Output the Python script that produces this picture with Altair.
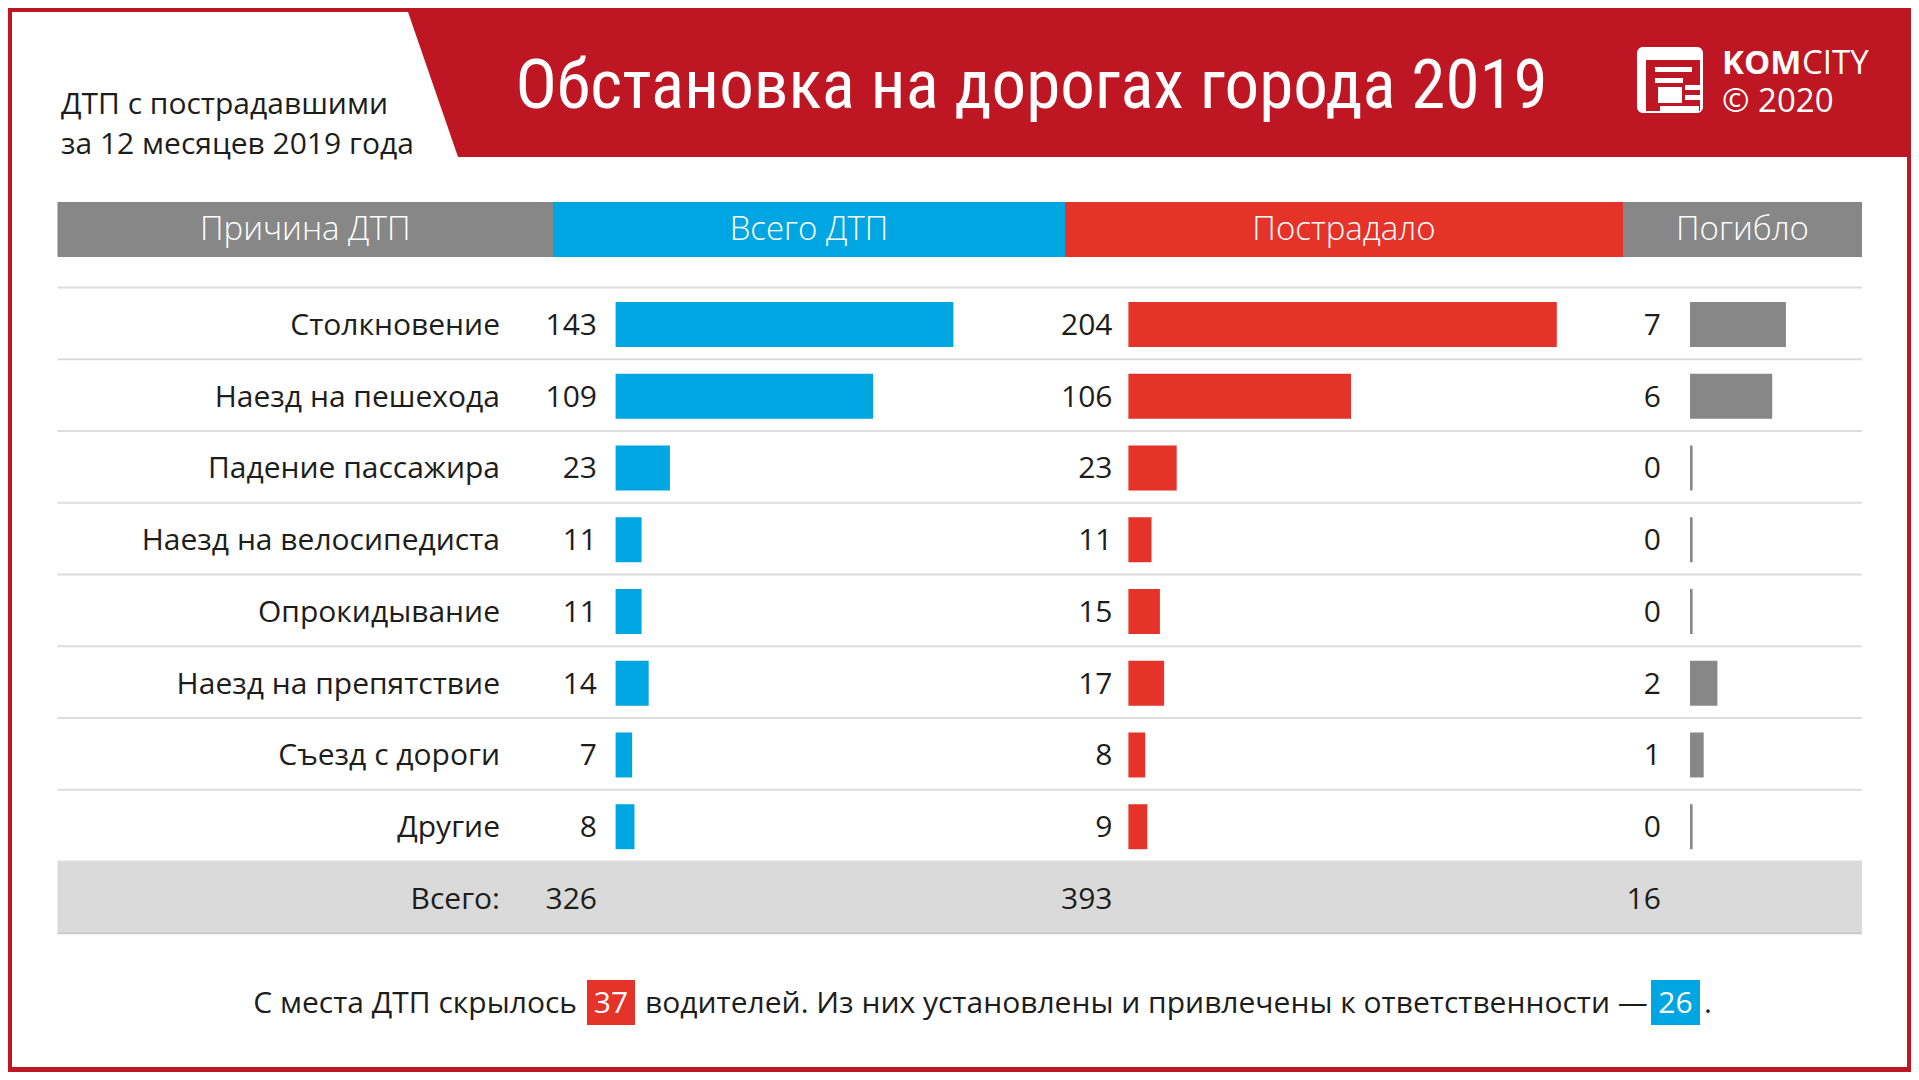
import altair as alt
import pandas as pd

# ---------------- data ----------------
causes = ["Столкновение", "Наезд на пешехода", "Падение пассажира",
          "Наезд на велосипедиста", "Опрокидывание", "Наезд на препятствие",
          "Съезд с дороги", "Другие"]
total_dtp = [143, 109, 23, 11, 11, 14, 7, 8]
injured = [204, 106, 23, 11, 15, 17, 8, 9]
killed = [7, 6, 0, 0, 0, 2, 1, 0]
total_label = "Всего:"
totals = [326, 393, 16]
headers = ["Причина ДТП", "Всего ДТП", "Пострадало", "Погибло"]
title_text = "Обстановка на дорогах города 2019"
subtitle_lines = ["ДТП с пострадавшими", "за 12 месяцев 2019 года"]
hidden_drivers = 37
punished_drivers = 26
footer_parts = ["С места ДТП скрылось",
                "водителей. Из них установлены и привлечены к ответственности —",
                "."]
logo_parts = ["KOM", "CITY", "© 2020"]

# ---------------- styles ----------------
FRAME = "#be1622"
BLUE = "#00a6e2"
RED = "#e5332a"
GRAY = "#878787"
INK = "#1d1d1b"
LINE = "#dcdcdc"
TOTAL_BG = "#dadada"
BODY = "Open Sans, Noto Sans, DejaVu Sans, sans-serif"
COND = "Roboto Condensed, Noto Sans Condensed, Liberation Sans Narrow, Roboto, sans-serif"

df = pd.DataFrame({"cause": causes, "dtp": total_dtp, "inj": injured, "kil": killed})
tot = pd.DataFrame({"cause": [total_label], "dtp": [totals[0]],
                    "inj": [totals[1]], "kil": [totals[2]]})
both = pd.concat([df, tot], ignore_index=True)
ydom = causes + [total_label]
dummy = pd.DataFrame({"k": [0]})

yscale = alt.Scale(type="band", domain=ydom, range=[279.6, 925.35],
                   paddingInner=0, paddingOuter=0)
Y = alt.Y("cause:N", scale=yscale, axis=None, sort=None)


def box(x, x2, y, y2, color, **kw):
    return alt.Chart(dummy).mark_rect(color=color, **kw).encode(
        x=alt.value(x), x2=alt.value(x2), y=alt.value(y), y2=alt.value(y2))


def label(text, x, y, size, color=INK, align="left", baseline="alphabetic",
          font=BODY, weight="normal"):
    return alt.Chart(dummy).mark_text(
        text=text, align=align, baseline=baseline, fontSize=size, font=font,
        fontWeight=weight, color=color).encode(x=alt.value(x), y=alt.value(y))


layers = []
# frame / white areas
layers.append(box(4, 1899, 149, 1059, "white"))
layers.append(box(4, 400, 4, 149, "white"))
layers.append(alt.Chart(dummy).mark_point(
    shape="M0,-1L0.69,1L0,1Z", size=145 ** 2, filled=True, opacity=1,
    color="white", strokeWidth=0).encode(x=alt.value(400), y=alt.value(76.5)))

# title / subtitle
layers.append(label(title_text, 1023.5, 100, 69, color="white", align="center", font=COND))
layers.append(label(subtitle_lines[0], 53, 106, 30))
layers.append(label(subtitle_lines[1], 53, 146, 30))

# logo
layers.append(box(1629, 1695, 39, 105, "white", cornerRadius=6))
layers.append(box(1638, 1692, 52, 103, FRAME))
for (a, b, c, d) in [(1647, 1684, 59, 64), (1647, 1675, 70, 75), (1650, 1674, 79, 95),
                     (1677, 1694, 77, 82), (1677, 1692, 87, 92), (1652, 1691, 98, 103)]:
    layers.append(box(a, b, c, d, "white"))
layers.append(label(logo_parts[0], 1714, 66, 33, color="white", weight="bold"))
layers.append(label(logo_parts[1], 1794, 66, 33, color="white"))
layers.append(label(logo_parts[2], 1714, 104, 33, color="white"))

# header
hx = [49.5, 545, 1057, 1615, 1854]
hcol = [GRAY, BLUE, RED, GRAY]
for i, h in enumerate(headers):
    layers.append(box(hx[i], hx[i + 1], 194, 249, hcol[i]))
    layers.append(label(h, (hx[i] + hx[i + 1]) / 2, 222, 33, color="white",
                        align="center", baseline="middle", weight=300))

# total row background
layers.append(alt.Chart(tot).mark_rect(color=TOTAL_BG).encode(
    y=Y, x=alt.value(49.5), x2=alt.value(1854)))

# row lines
layers.append(alt.Chart(pd.DataFrame({"cause": ydom})).mark_rule(
    color=LINE, strokeWidth=2).encode(
    y=alt.Y("cause:N", scale=yscale, axis=None, sort=None, bandPosition=0),
    x=alt.value(49.5), x2=alt.value(1854)))
layers.append(alt.Chart(tot).mark_rule(color="#cacaca", strokeWidth=2).encode(
    y=alt.Y("cause:N", scale=yscale, axis=None, sort=None, bandPosition=1),
    x=alt.value(49.5), x2=alt.value(1854)))

# bars
blue_scale = alt.Scale(domain=[0, 100], range=[607.6, 843.8], nice=False, zero=True)
red_scale = alt.Scale(domain=[0, 100], range=[1120.4, 1330.4], nice=False, zero=True)
gray_scale = alt.Scale(domain=[0, 10], range=[1682, 1819], nice=False, zero=True)

layers.append(alt.Chart(df).mark_bar(size=45, color=BLUE, yOffset=1).encode(
    x=alt.X("dtp:Q", scale=blue_scale, axis=None), y=Y))
layers.append(alt.Chart(df).mark_bar(size=45, color=RED, yOffset=1).encode(
    x=alt.X("inj:Q", scale=red_scale, axis=None), y=Y))
layers.append(alt.Chart(df).mark_bar(size=45, color=GRAY, yOffset=1).encode(
    x=alt.X("kil:Q", scale=gray_scale, axis=None), y=Y))
layers.append(alt.Chart(df).transform_filter("datum.kil == 0").mark_tick(
    thickness=2.6, size=45, color=GRAY, opacity=1, xOffset=1.3, yOffset=1).encode(
    x=alt.X("kil:Q", scale=gray_scale, axis=None), y=Y))

# row texts
def col_text(field, x):
    return alt.Chart(both).mark_text(
        align="right", baseline="middle", fontSize=30, font=BODY, color=INK,
        dy=2.5).encode(x=alt.value(x), y=Y, text=field)

layers.append(col_text("cause:N", 492))
layers.append(col_text("dtp:Q", 589))
layers.append(col_text("inj:Q", 1104.5))
layers.append(col_text("kil:Q", 1652.8))

# footer
layers.append(box(579, 627, 972, 1017, RED))
layers.append(box(1643, 1692, 972, 1017, BLUE))
layers.append(label(footer_parts[0], 569, 1005, 30, align="right"))
layers.append(label(str(hidden_drivers), 603, 1005, 30, color="white", align="center"))
layers.append(label(footer_parts[1], 637, 1005, 30))
layers.append(label(str(punished_drivers), 1667.5, 1005, 30, color="white", align="center"))
layers.append(label(footer_parts[2], 1696, 1005, 30))

chart = alt.layer(*layers).resolve_scale(x="independent").properties(
    width=1903, height=1064, background=FRAME, padding=0, autosize="none"
).configure_view(stroke=None)

chart.save("out.html", embed_options={"renderer": "svg", "actions": False})
